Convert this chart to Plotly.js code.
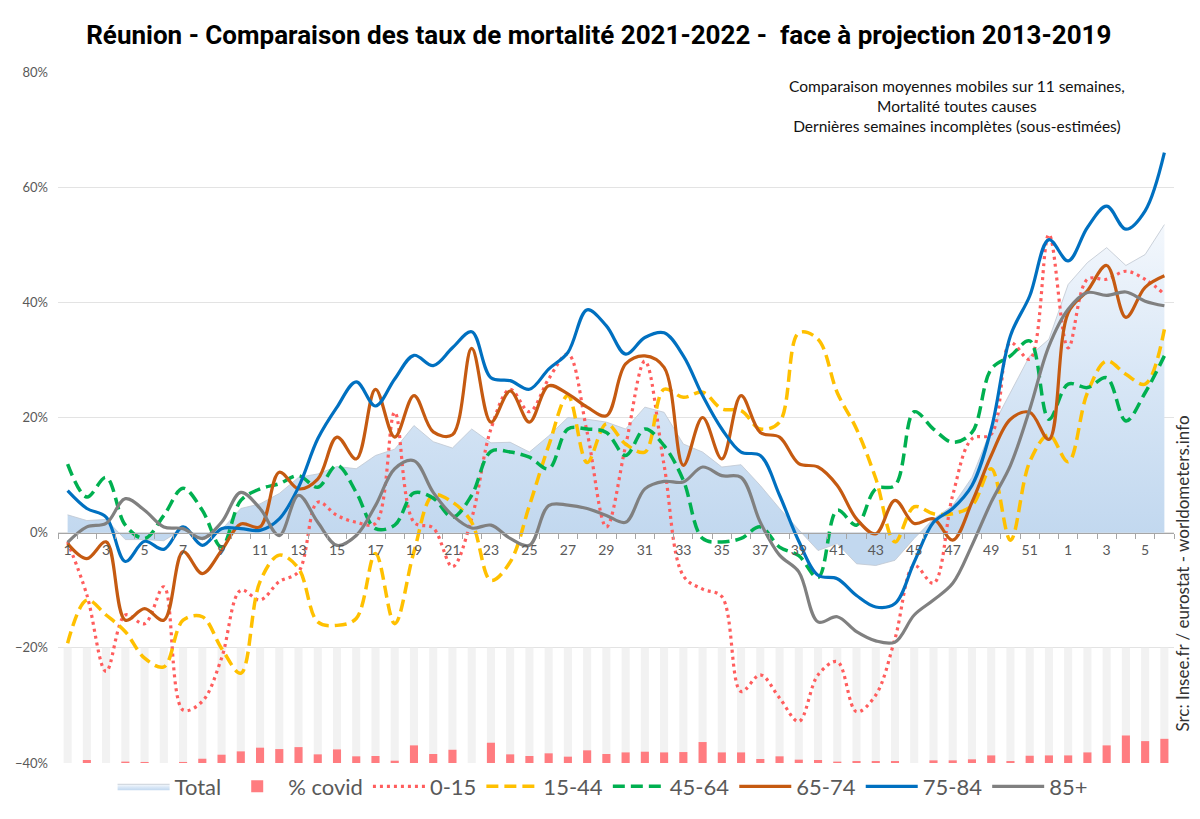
<!DOCTYPE html>
<html>
<head>
<meta charset="utf-8">
<script src="https://cdn.plot.ly/plotly-3.0.1.min.js"></script>
<style>html,body{margin:0;padding:0;background:#fff;}#chart{width:1200px;height:819px;}</style>
</head>
<body>
<div id="chart"></div>
<script>
// Week labels: 2021 weeks 1..52 then 2022 weeks 1..6
const weeks = [1,2,3,4,5,6,7,8,9,10,11,12,13,14,15,16,17,18,19,20,21,22,23,24,25,26,27,28,29,30,31,32,33,34,35,36,37,38,39,40,41,42,43,44,45,46,47,48,49,50,51,52,1,2,3,4,5,6];

const total = [3.1,2.1,2.3,-1.2,-1.2,-1.4,0.7,-1.3,0.5,4.2,5.0,6.8,9.6,10.2,11.5,11.1,13.4,14.5,18.6,15.8,14.7,18.0,15.6,15.7,14.0,16.8,20.0,19.7,19.2,18.0,21.8,20.9,15.4,14.0,11.4,11.8,8.2,4.2,0.5,-3.1,-1.9,-5.4,-5.7,-4.8,-1.0,2.4,4.7,9.6,18.0,24.3,30.7,33.6,43.1,46.9,49.5,46.4,48.3,53.5];

const covid = [0,2.6,0,1.2,0.9,0,0.9,3.7,7.2,10.1,13.3,12.1,13.8,7.5,11.8,5.8,6.1,2.0,15.3,7.8,11.5,0,17.6,7.5,6.1,8.4,5.5,11.0,7.8,9.2,9.8,9.2,9.5,18.2,9.2,9.2,3.5,5.8,2.9,2.6,1.2,1.7,1.7,1.7,0,2.3,2.3,3.2,6.6,1.7,6.3,6.6,6.6,9.2,15.3,23.9,19.0,21.0];

const full = weeks.map(() => 100);

const a0_15 = [-1.6,-10.8,-24.1,-14.3,-15.8,-9.4,-30.8,-29.3,-21.8,-10.0,-11.7,-8.5,-6.8,5.3,3.0,1.8,1.6,20.9,1.8,0.8,-5.9,2.5,18.0,24.9,21.0,26.7,31.0,17.4,1.0,15.1,29.8,11.7,-7.5,-9.8,-11.1,-27.6,-24.7,-28.7,-32.8,-24.7,-22.4,-31.1,-28.2,-18.4,-5.7,-8.8,6.5,16.3,17.1,33.0,30.1,51.8,32.1,44.0,44.0,45.4,44.0,41.4];

const a15_44 = [-19.2,-11.7,-14.3,-17.2,-21.8,-23.3,-15.2,-14.6,-20.1,-24.4,-8.5,-3.9,-6.2,-15.5,-16.1,-14.9,-3.6,-15.8,-3.3,6.5,5.3,1.8,-8.3,-5.1,4.7,15.1,23.8,12.2,18.9,15.4,14.0,24.9,23.5,24.4,21.5,21.2,18.0,19.2,34.7,33.6,24.3,18.0,9.4,-1.6,4.5,3.3,3.3,4.7,11.1,-1.3,12.3,17.0,12.3,24.3,29.8,27.5,25.8,35.3];

const a45_64 = [11.9,6.2,9.6,1.3,-1.0,3.0,7.7,3.9,-2.5,5.6,7.6,8.5,9.9,7.9,11.7,7.0,0.7,1.3,6.9,6.0,2.7,6.5,14.1,14.0,13.1,11.1,18.0,18.0,17.4,13.4,18.0,15.1,9.1,-1.0,-1.6,-1.0,1.0,-2.5,-4.0,-7.8,3.9,1.3,7.6,8.2,21.0,18.0,15.7,17.4,28.4,30.7,33.3,19.7,25.8,25.2,26.9,19.4,24.3,30.7];

const a65_74 = [-1.9,-4.5,-1.6,-15.2,-13.2,-15.2,-3.3,-7.1,-3.1,1.5,1.0,10.5,7.6,9.3,16.6,12.8,24.9,16.6,23.8,17.5,17.0,32.0,19.2,24.6,19.2,25.5,24.1,21.8,20.3,29.3,30.7,28.7,11.7,20.0,12.8,23.8,17.4,16.6,12.0,11.4,8.2,2.4,-0.2,5.6,1.6,2.4,-1.3,5.3,13.4,19.7,20.9,16.2,38.2,42.0,46.4,37.4,42.6,44.6];

const a75_84 = [7.3,4.2,2.7,-5.0,-1.5,-2.9,1.0,-2.2,0.7,0.7,0.4,2.4,7.9,16.3,21.8,26.2,22.0,26.7,30.8,29.0,32.1,34.9,26.9,26.4,24.9,28.4,31.3,38.7,35.9,31.0,33.9,34.7,30.7,23.8,18.0,14.0,13.4,6.5,-1.5,-7.4,-8.0,-10.9,-12.9,-12.3,-5.1,1.8,4.2,8.2,18.0,34.2,41.1,50.9,47.2,53.0,56.7,52.7,55.9,66.0];

const a85 = [-1.7,1.0,1.6,5.9,3.9,1.0,0.7,-1.0,1.8,7.0,4.2,-0.5,6.5,1.8,-2.2,-0.5,4.7,11.1,12.5,7.0,3.0,0.8,1.3,-1.0,-2.2,4.7,4.8,4.2,3.0,1.8,7.6,8.9,8.8,11.4,9.9,9.6,1.8,-3.9,-6.8,-15.5,-14.6,-17.2,-18.8,-19.0,-14.3,-11.7,-8.8,-2.2,5.3,11.7,21.4,32.4,38.8,41.7,41.2,41.8,40.2,39.4];

const idx = weeks.map((w, i) => i);
const tickIdx = idx.filter(i => i % 2 === 0);
const tickTxt = tickIdx.map(i => String(weeks[i]));
const bounds = idx.map(i => i - 0.5).concat([idx.length - 0.5]);

const FONT = 'Lato, "Open Sans", "Noto Sans", sans-serif';

function lineTrace(name, y, color, dash, width, rank) {
  return {
    type: 'scatter', mode: 'lines', name: name, x: idx, y: y,
    xaxis: 'x', yaxis: 'y2',
    line: {color: color, width: width, dash: dash, shape: 'spline', smoothing: 1},
    legendrank: rank, hoverinfo: 'skip'
  };
}

const data = [
  {type: 'bar', x: idx, y: full, xaxis: 'x', yaxis: 'y', marker: {color: '#f2f2f2'},
   width: 0.42, showlegend: false, hoverinfo: 'skip'},
  {type: 'bar', x: idx, y: covid, xaxis: 'x', yaxis: 'y', name: '% covid', marker: {color: '#ff7c80'},
   width: 0.42, legendrank: 2, hoverinfo: 'skip'},
  {type: 'scatter', mode: 'lines', name: 'Total', x: idx, y: total, xaxis: 'x', yaxis: 'y2',
   fill: 'tozeroy', line: {color: '#bfc7d0', width: 0.8},
   fillgradient: {type: 'vertical', start: 0, stop: 56,
     colorscale: [[0, '#c2d8ef'], [0.5, '#d9e7f6'], [1, '#f6f9fd']]},
   legendrank: 1, hoverinfo: 'skip'},
  lineTrace('0-15', a0_15, '#ff5d5d', '3px,4px', 3.2, 3),
  lineTrace('15-44', a15_44, '#ffc000', '12px,6px', 3.5, 4),
  lineTrace('45-64', a45_64, '#00b050', '12px,6px', 3.5, 5),
  lineTrace('65-74', a65_74, '#c55a11', 'solid', 3.2, 6),
  lineTrace('75-84', a75_84, '#0070c0', 'solid', 3.2, 7),
  lineTrace('85+', a85, '#808080', 'solid', 3.2, 8)
];

const layout = {
  width: 1200, height: 819,
  margin: {l: 58, r: 26, t: 72, b: 54},
  paper_bgcolor: '#ffffff', plot_bgcolor: '#ffffff',
  barmode: 'overlay',
  showlegend: true,
  font: {family: FONT, color: '#595959'},
  title: {
    text: '<b>Réunion - Comparaison des taux de mortalité 2021-2022 -  face à projection 2013-2019</b>',
    font: {family: 'Roboto, "DejaVu Sans Condensed", sans-serif', size: 26, color: '#000000'},
    x: 0.499, xanchor: 'center', y: 0.957, yanchor: 'middle'
  },
  xaxis: {
    range: [-0.5, idx.length - 0.5],
    anchor: 'free', position: 1/3,
    tickmode: 'array', tickvals: tickIdx, ticktext: tickTxt,
    ticks: '', showgrid: false, zeroline: false,
    showline: true, linecolor: '#a6a6a6', linewidth: 1.3,
    tickfont: {family: FONT, size: 14, color: '#595959'},
    ticklabelstandoff: 4,
    minor: {tickmode: 'array', tickvals: bounds, ticks: 'outside', ticklen: 5, tickcolor: '#a6a6a6', tickwidth: 1, showgrid: false},
    fixedrange: true
  },
  yaxis: {
    domain: [0, 1], range: [0, 600], visible: false, fixedrange: true
  },
  yaxis2: {
    overlaying: 'y', side: 'left', anchor: 'free', position: 0,
    range: [-40, 80], tickmode: 'linear', tick0: -40, dtick: 20,
    ticksuffix: '%', showgrid: true, gridcolor: '#e3e3e3', gridwidth: 1,
    zeroline: false, showline: false, ticks: '',
    tickfont: {family: FONT, size: 13, color: '#595959'},
    ticklabelstandoff: 10,
    fixedrange: true
  },
  legend: {
    orientation: 'h', x: 0.488, xanchor: 'center', y: -0.034, yanchor: 'middle',
    font: {family: FONT, size: 22, color: '#595959'},
    itemwidth: 52, traceorder: 'normal', bgcolor: 'rgba(0,0,0,0)'
  },
  annotations: [
    {xref: 'paper', yref: 'paper', x: 0.806, y: 0.995, xanchor: 'center', yanchor: 'top',
     text: 'Comparaison moyennes mobiles sur 11 semaines,<br>Mortalité toutes causes<br>Dernières semaines incomplètes (sous-estimées)',
     showarrow: false, align: 'center', font: {family: FONT, size: 15.5, color: '#111111'}},
    {xref: 'paper', yref: 'paper', x: 1.008, y: 0.274, xanchor: 'center', yanchor: 'middle',
     text: 'Src: Insee.fr / eurostat - worldometers.info', textangle: -90,
     showarrow: false, font: {family: FONT, size: 17, color: '#333333'}}
  ]
};

Plotly.newPlot('chart', data, layout, {displayModeBar: false, staticPlot: true});
</script>
</body>
</html>
